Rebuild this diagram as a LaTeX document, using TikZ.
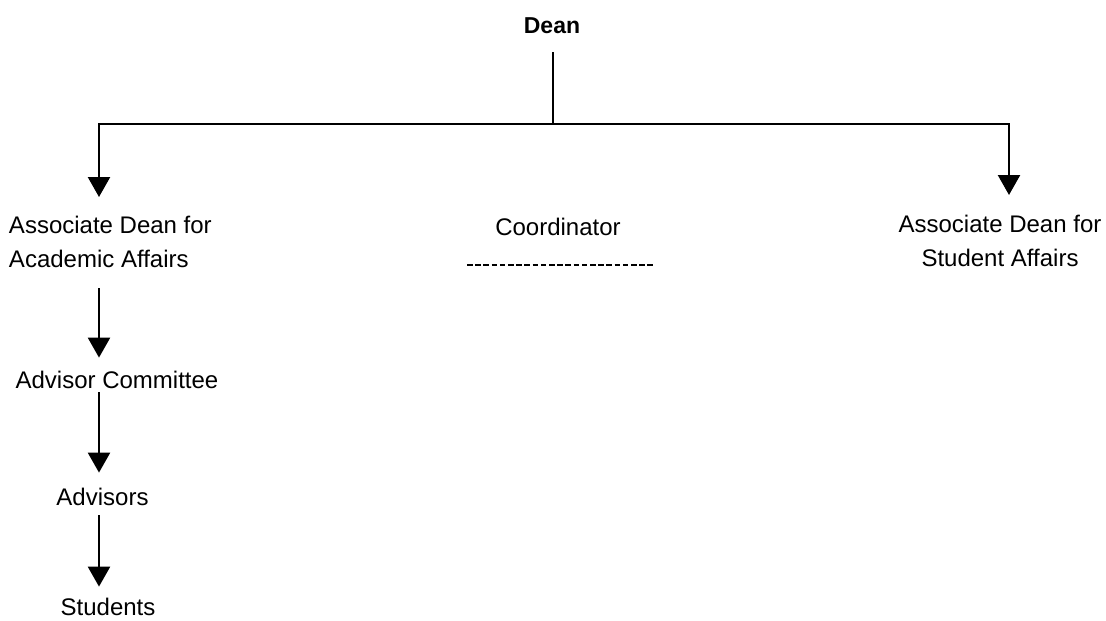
\documentclass[tikz,border=0pt]{standalone}
\usepackage{fontspec}
\setmainfont{Liberation Sans}
\usetikzlibrary{arrows.meta}
\begin{document}
\begin{tikzpicture}[x=1pt,y=-1pt,
  lbl/.style={inner sep=0pt, outer sep=0pt, font=\fontsize{24}{34}\selectfont},
  lw/.style={line width=2.4pt},
  arr/.style={line width=2.4pt, -{Triangle[width=22pt,length=20pt]}},
  dots/.style={line width=2pt, dash pattern=on 5.5pt off 2.7pt}]
\useasboundingbox (0,0) rectangle (1106,621);
% nodes
\node[lbl, anchor=base, font=\fontsize{23}{28}\selectfont\bfseries] (dean) at (552,33) {Dean};
\node[lbl, anchor=north west, align=left] (assocA) at (9,216.5) {Associate Dean for\\Academic Affairs};
\node[lbl, anchor=base] (coord) at (558,235) {Coordinator};
\node[lbl, anchor=north, align=center] (assocS) at (1000,215) {Associate Dean for\\Student Affairs};
\node[lbl, anchor=base] (advcom) at (117,388) {Advisor Committee};
\node[lbl, anchor=base] (advs) at (102.5,505) {Advisors};
\node[lbl, anchor=base] (stud) at (108,615) {Students};
% coordinates
\coordinate (top) at (553,52);
\coordinate (jn) at (553,124);
\coordinate (tipL) at (99,197);
\coordinate (tipR) at (1009,195);
\coordinate (cx) at (99,0);
\coordinate (dl) at (467,265);
\coordinate (dr) at (655,265);
% connectors
\draw[lw] (top) -- (jn);
\draw[arr] (jn) -| (tipL);
\draw[arr] (jn) -| (tipR);
\draw[dots] (dl) -- (dr);
\draw[arr, shorten <=20pt, shorten >=13pt] (assocA.south -| cx) -- (advcom.north -| cx);
\draw[arr, shorten <=4pt, shorten >=15pt] (advcom.south -| cx) -- (advs.north -| cx);
\draw[arr, shorten <=10pt, shorten >=11pt] (advs.south -| cx) -- (stud.north -| cx);
\end{tikzpicture}
\end{document}
